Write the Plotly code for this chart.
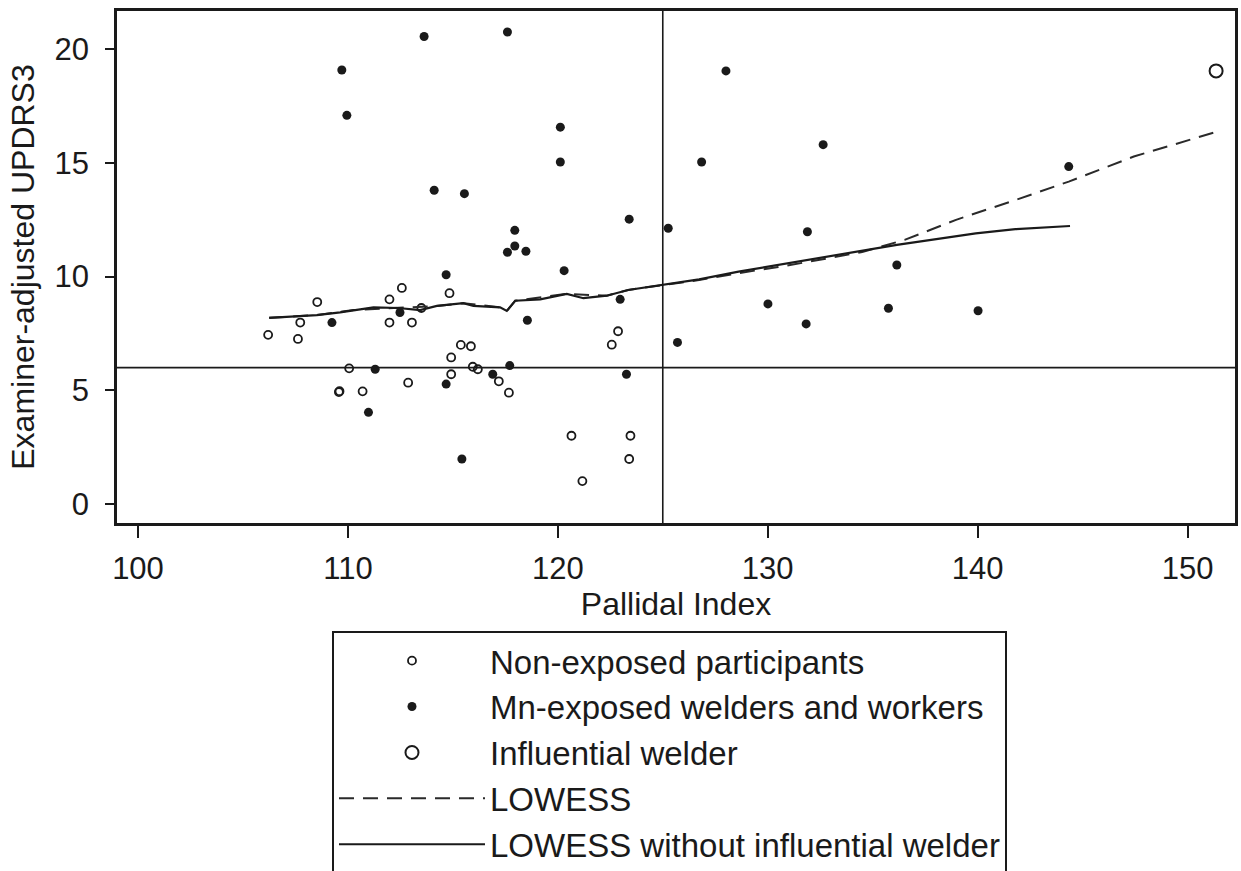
import plotly.graph_objects as go

# ---------------- data ----------------
nonexp_x = [112.57, 114.84, 108.54, 111.98, 113.50, 107.73, 106.20, 107.62, 111.98, 113.05,
            115.38, 115.86, 114.92, 110.06, 115.95, 116.19, 114.92, 112.87, 117.19, 109.57,
            109.60, 110.70, 117.67, 122.87, 122.57, 120.65, 123.46, 123.40, 121.17]
nonexp_y = [9.50, 9.27, 8.88, 9.00, 8.62, 7.98, 7.44, 7.26, 7.98, 7.98,
            7.00, 6.94, 6.45, 5.97, 6.04, 5.93, 5.71, 5.34, 5.40, 4.93,
            4.97, 4.96, 4.90, 7.60, 7.01, 3.01, 3.01, 1.99, 1.02]

exposed_x = [109.71, 109.95, 113.63, 117.60, 120.12, 120.12, 114.11, 115.55, 123.40, 117.95,
             117.95, 117.60, 118.48, 120.30, 114.68, 109.24, 112.48, 118.55, 122.97, 111.30,
             117.71, 114.68, 116.90, 110.98, 115.43, 123.27, 128.01, 132.64, 126.85, 144.34,
             125.26, 131.89, 136.15, 130.01, 131.83, 135.75, 140.02, 125.70]
exposed_y = [19.07, 17.08, 20.54, 20.74, 16.56, 15.03, 13.79, 13.64, 12.52, 12.03,
             11.34, 11.07, 11.11, 10.26, 10.08, 7.98, 8.42, 8.08, 9.00, 5.93,
             6.09, 5.28, 5.71, 4.04, 1.99, 5.71, 19.03, 15.79, 15.03, 14.83,
             12.12, 11.97, 10.51, 8.80, 7.92, 8.61, 8.50, 7.11]

influential_x = [151.36]
influential_y = [19.03]

lowess_x = [106.25, 108.52, 110.27, 112.40, 114.24, 115.50, 117.25, 117.57, 117.97, 120.43,
            122.33, 123.35, 124.98, 126.73, 128.61, 130.50, 132.76, 134.50, 136.52, 138.97,
            141.80, 144.34, 147.44, 151.36]
lowess_y = [8.19, 8.31, 8.53, 8.62, 8.71, 8.83, 8.65, 8.49, 8.94, 9.24,
            9.16, 9.41, 9.63, 9.85, 10.15, 10.42, 10.78, 11.08, 11.61, 12.49,
            13.36, 14.17, 15.27, 16.35]

lowess_noinf_x = [106.25, 108.52, 109.63, 110.27, 111.22, 112.40, 113.44, 114.24, 115.50, 115.98,
                  117.25, 117.57, 117.97, 119.16, 120.43, 121.22, 122.33, 123.35, 124.98, 126.73,
                  128.61, 130.50, 132.76, 136.15, 139.91, 141.80, 144.40]
lowess_noinf_y = [8.19, 8.31, 8.43, 8.53, 8.65, 8.62, 8.53, 8.71, 8.83, 8.71,
                  8.65, 8.49, 8.94, 9.00, 9.24, 9.05, 9.16, 9.41, 9.63, 9.88,
                  10.22, 10.51, 10.87, 11.39, 11.90, 12.08, 12.22]

ref_x = 125   # vertical reference line (Pallidal Index)
ref_y = 6     # horizontal reference line (UPDRS3)

x_ticks = [100, 110, 120, 130, 140, 150]
y_ticks = [0, 5, 10, 15, 20]

# ---------------- figure ----------------
INK = "#1a1a1a"
FONT = "Liberation Sans, Arial, sans-serif"

fig = go.Figure()

fig.add_trace(go.Scatter(
    x=nonexp_x, y=nonexp_y, mode="markers", name="Non-exposed participants",
    legendgroup="a",
    marker=dict(symbol="circle-open", size=8, color=INK, line=dict(width=1.8)),
))
fig.add_trace(go.Scatter(
    x=exposed_x, y=exposed_y, mode="markers", name="Mn-exposed welders and workers",
    legendgroup="b",
    marker=dict(symbol="circle", size=9, color=INK, line=dict(width=0)),
))
fig.add_trace(go.Scatter(
    x=influential_x, y=influential_y, mode="markers", name="Influential welder",
    legendgroup="c",
    marker=dict(symbol="circle-open", size=13, color=INK, line=dict(width=2)),
))
fig.add_trace(go.Scatter(
    x=lowess_x, y=lowess_y, mode="lines", name="LOWESS",
    legendgroup="d",
    line=dict(color="#2a2a2a", width=2, dash="15px,9px"),
))
fig.add_trace(go.Scatter(
    x=lowess_noinf_x, y=lowess_noinf_y, mode="lines", name="LOWESS without influential welder",
    legendgroup="e",
    line=dict(color=INK, width=2.2),
))

fig.add_shape(type="line", xref="x", yref="paper", x0=ref_x, x1=ref_x, y0=0, y1=1,
              line=dict(color=INK, width=1.6), layer="below")
fig.add_shape(type="line", xref="paper", yref="y", x0=0, x1=1, y0=ref_y, y1=ref_y,
              line=dict(color=INK, width=1.6), layer="below")

fig.update_layout(
    width=1241, height=871,
    margin=dict(l=117, r=6, t=11, b=348, autoexpand=False),
    paper_bgcolor="white", plot_bgcolor="white",
    font=dict(family=FONT, color=INK, size=31),
    showlegend=True,
    legend=dict(
        xref="paper", yref="container",
        x=0.1923, y=0.2759, xanchor="left", yanchor="top",
        bordercolor=INK, borderwidth=2, bgcolor="white",
        font=dict(size=33, family=FONT, color=INK),
        itemwidth=146, tracegroupgap=4,
        traceorder="normal",
    ),
)

fig.update_xaxes(
    range=[99.0, 152.26], tickvals=x_ticks, ticktext=[str(v) for v in x_ticks],
    showgrid=False, zeroline=False, automargin=False,
    showline=True, linecolor=INK, linewidth=2.5, mirror=True,
    ticks="outside", ticklen=12, tickwidth=2, tickcolor=INK,
    tickfont=dict(size=31), ticklabelstandoff=4,
    title=dict(text="Pallidal Index", font=dict(size=32), standoff=0),
)
fig.update_yaxes(
    range=[-0.82, 21.66], tickvals=y_ticks, ticktext=[str(v) for v in y_ticks],
    showgrid=False, zeroline=False, automargin=False,
    showline=True, linecolor=INK, linewidth=2.5, mirror=True,
    ticks="outside", ticklen=9, tickwidth=2, tickcolor=INK,
    tickfont=dict(size=31), ticklabelstandoff=10,
    title=dict(text="Examiner-adjusted UPDRS3", font=dict(size=32), standoff=11),
)

fig.write_html("out.html", config={"displayModeBar": False},
               post_script="document.body.style.margin='0';")
